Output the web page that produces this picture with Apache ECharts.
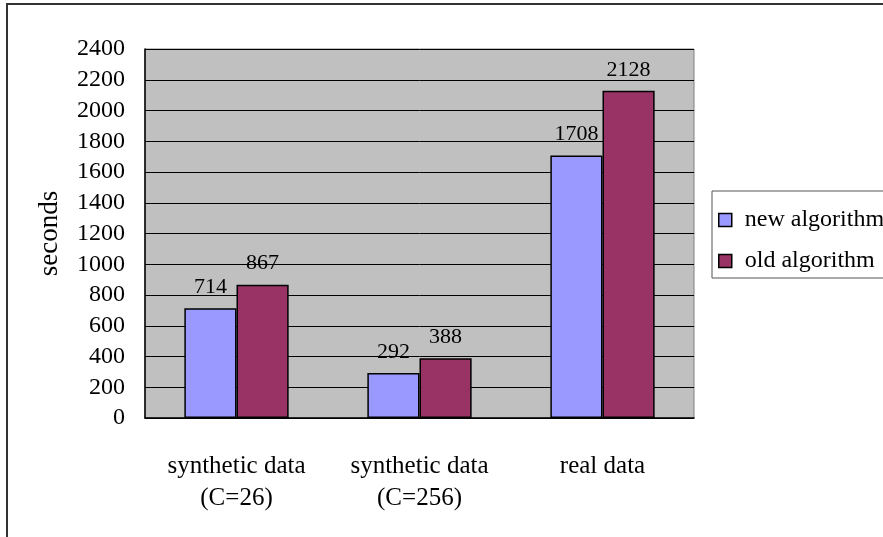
<!DOCTYPE html>
<html>
<head>
<meta charset="utf-8">
<script src="https://cdn.jsdelivr.net/npm/echarts@6/dist/echarts.min.js"></script>
<style>
  html, body { margin: 0; padding: 0; background: #fff; }
  #chart { width: 883px; height: 537px; }
</style>
</head>
<body>
<div id="chart"></div>
<script>
// Running time of the two algorithms on each data set
const categories = ['synthetic data\n(C=26)', 'synthetic data\n(C=256)', 'real data'];
const newAlgorithm = [714, 292, 1708];
const oldAlgorithm = [867, 388, 2128];
const seriesNames = ['new algorithm', 'old algorithm'];
const yTicks = { min: 0, max: 2400, interval: 200 };

const FONT = '"Liberation Serif", "Times New Roman", serif';

const chart = echarts.init(document.getElementById('chart'));

const barLabel = {
  show: true,
  position: 'top',
  distance: 10,
  color: '#000',
  fontFamily: FONT,
  fontSize: 22
};

chart.setOption({
  animation: false,
  backgroundColor: '#fff',
  textStyle: { fontFamily: FONT },
  graphic: [{
    type: 'rect',
    shape: { x: 7, y: 4, width: 880, height: 540 },
    style: { fill: 'none', stroke: '#333', lineWidth: 2 },
    silent: true
  }],
  grid: {
    left: 145, top: 49, width: 549, height: 369,
    show: true,
    backgroundColor: '#C0C0C0',
    borderColor: '#808080',
    borderWidth: 1
  },
  legend: {
    orient: 'vertical',
    left: 712, top: 191,
    padding: [17, 40, 5, 6],
    itemGap: 17,
    itemWidth: 13, itemHeight: 13,
    borderColor: '#555', borderWidth: 1,
    backgroundColor: '#fff',
    icon: 'rect',
    itemStyle: { borderColor: '#000', borderWidth: 1.5 },
    textStyle: { fontFamily: FONT, fontSize: 24, color: '#000', padding: [0, 0, 0, 8] },
    data: seriesNames
  },
  xAxis: {
    type: 'category',
    data: categories,
    axisLine: { lineStyle: { color: '#000', width: 1.5 } },
    axisTick: { inside: true, length: 6, lineStyle: { color: '#000' } },
    axisLabel: {
      margin: 32, color: '#000', fontFamily: FONT, fontSize: 25, lineHeight: 32
    }
  },
  yAxis: {
    type: 'value',
    min: yTicks.min, max: yTicks.max, interval: yTicks.interval,
    name: 'seconds',
    nameLocation: 'middle',
    nameGap: 82,
    nameTextStyle: { fontFamily: FONT, fontSize: 27, color: '#000' },
    axisLine: { show: true, lineStyle: { color: '#000', width: 1.5 } },
    axisTick: { show: true, inside: true, length: 6, lineStyle: { color: '#000' } },
    axisLabel: {
      margin: 20, color: '#000', fontFamily: FONT, fontSize: 24,
      padding: [6, 0, 0, 0],
      formatter: v => String(v)
    },
    splitLine: { show: true, lineStyle: { color: '#000', width: 1 } }
  },
  series: [
    {
      name: seriesNames[0],
      type: 'bar',
      data: newAlgorithm,
      barGap: '0%',
      barCategoryGap: '43%',
      itemStyle: { color: '#9999FF', borderColor: '#000', borderWidth: 1.5 },
      label: barLabel
    },
    {
      name: seriesNames[1],
      type: 'bar',
      data: oldAlgorithm,
      itemStyle: { color: '#993366', borderColor: '#000', borderWidth: 1.5 },
      label: barLabel
    }
  ]
});
</script>
</body>
</html>
